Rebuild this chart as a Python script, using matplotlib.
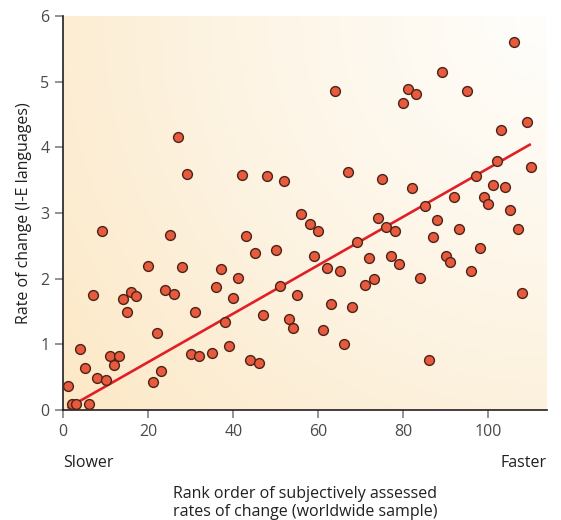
import numpy as np
import matplotlib
matplotlib.use("Agg")
import matplotlib.pyplot as plt
from matplotlib.colors import LinearSegmentedColormap

# rank order (x) and rate of change (y)
rank = [1, 2, 3, 4, 5, 6, 7, 8, 9, 10, 11, 12, 13, 14, 15, 16, 17,
        20, 21, 22, 23, 24, 25, 26, 27, 28, 29, 30, 31, 32, 35, 36, 37,
        38, 39, 40, 41, 42, 43, 44, 45, 46, 47, 48, 50, 51, 52, 53, 54,
        55, 56, 58, 59, 60, 61, 62, 63, 64, 65, 66, 67, 68, 69, 71, 72,
        73, 74, 75, 76, 77, 78, 79, 80, 81, 82, 83, 84, 85, 86, 87, 88,
        89, 90, 91, 92, 93, 95, 96, 97, 98, 99, 100, 101, 102, 103, 104,
        105, 106, 107, 108, 109, 110]
rate = [0.37, 0.09, 0.09, 0.93, 0.64, 0.09, 1.75, 0.49, 2.73, 0.46, 0.82,
        0.69, 0.82, 1.69, 1.49, 1.79, 1.74,
        2.19, 0.43, 1.18, 0.59, 1.83, 2.66, 1.77, 4.16, 2.18, 3.60, 0.86,
        1.49, 0.82, 0.87, 1.88, 2.15,
        1.34, 0.98, 1.70, 2.01, 3.58, 2.65, 0.76, 2.39, 0.72, 1.45, 3.56,
        2.43, 1.89, 3.49, 1.39, 1.25,
        1.75, 2.98, 2.83, 2.35, 2.73, 1.22, 2.16, 1.61, 4.86, 2.11, 1.00,
        3.63, 1.57, 2.56, 1.90, 2.32,
        2.00, 2.93, 3.52, 2.78, 2.35, 2.73, 2.22, 4.67, 4.89, 3.38, 4.81,
        2.01, 3.11, 0.76, 2.63, 2.89,
        5.14, 2.35, 2.26, 3.25, 2.75, 4.86, 2.12, 3.56, 2.46, 3.25, 3.14,
        3.42, 3.79, 4.26, 3.39,
        3.04, 5.60, 2.75, 1.78, 4.39, 3.70]

# regression line end points
fit_x = [1, 110]
fit_y = [0.03, 4.05]

x_ticks = [0, 20, 40, 60, 80, 100]
y_ticks = [0, 1, 2, 3, 4, 5, 6]

plt.rcParams['font.family'] = ['Open Sans', 'DejaVu Sans']

fig = plt.figure(figsize=(5.61, 5.2), dpi=100)
ax = fig.add_axes([0.1128, 0.2115, 0.8622, 0.7577])

xmax = 113.8
# warm background gradient, light towards the top right
u, v = np.meshgrid(np.linspace(0, 1, 300), np.linspace(0, 1, 300))
d = np.sqrt((1 - u) ** 2 + (0.8 * (1 - v)) ** 2) / np.sqrt(1 + 0.8 ** 2)
bg = LinearSegmentedColormap.from_list('bg', ['#fffefc', '#fdf4e4', '#fce8c6'])
ax.imshow(d, cmap=bg, extent=[0, xmax, 0, 6], origin='lower', aspect='auto',
          zorder=0, vmin=0, vmax=1)

ax.plot(fit_x, fit_y, color='#e01f26', lw=1.9, zorder=2, solid_capstyle='butt')
ax.scatter(rank, rate, s=50, color='#e85a3e', edgecolors='#4a2418',
           linewidths=1.0, zorder=3)

ax.set_xlim(0, xmax)
ax.set_ylim(0, 6)
ax.set_xticks(x_ticks)
ax.set_yticks(y_ticks)
for s in ['top', 'right']:
    ax.spines[s].set_visible(False)
for s in ['left', 'bottom']:
    ax.spines[s].set_color('#231f20')
    ax.spines[s].set_linewidth(1.2)
ax.tick_params(direction='out', length=6, width=1.2, color='#808080',
               labelsize=11.5, labelcolor='#4a4a4a', pad=4)

ax.set_ylabel('Rate of change (I-E languages)', fontsize=11.5, color='#231f20',
              labelpad=6)
ax.text(0, -0.135, 'Slower', transform=ax.transAxes, ha='left', va='center',
        fontsize=11.5, color='#231f20')
ax.text(1, -0.135, 'Faster', transform=ax.transAxes, ha='right', va='center',
        fontsize=11.5, color='#231f20')
ax.text(0.5, -0.235, 'Rank order of subjectively assessed\nrates of change (worldwide sample)',
        transform=ax.transAxes, ha='center', va='center', fontsize=11.5,
        color='#231f20', linespacing=1.15)

fig.savefig('out.png', dpi=100)
